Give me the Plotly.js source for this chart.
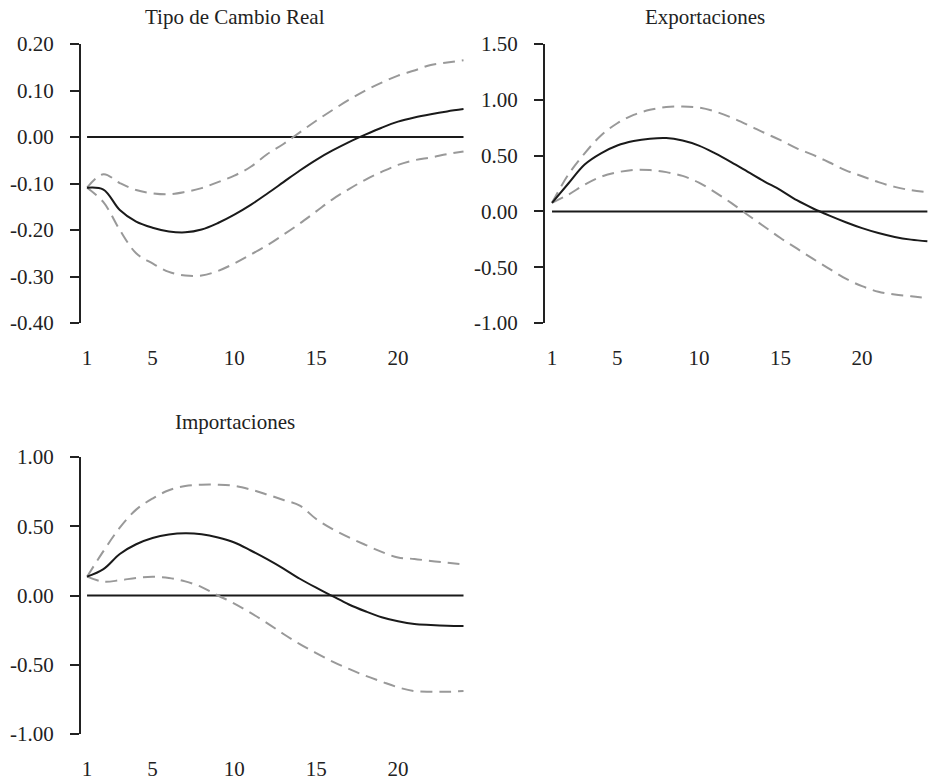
<!DOCTYPE html>
<html>
<head>
<meta charset="utf-8">
<script src="https://cdn.plot.ly/plotly-3.0.1.min.js"></script>
<style>html,body{margin:0;padding:0;background:#fff;}#chart{width:929px;height:783px;}</style>
</head>
<body>
<div id="chart"></div>
<script>
// ---- data ----
const periods = [1,2,3,4,5,6,7,8,9,10,11,12,13,14,15,16,17,18,19,20,21,22,23,24];
const zeros = periods.map(() => 0);

const tcrIRF   = [-0.109,-0.113,-0.157,-0.182,-0.195,-0.203,-0.205,-0.199,-0.185,-0.167,-0.146,-0.122,-0.097,-0.072,-0.049,-0.029,-0.011,0.005,0.02,0.033,0.042,0.049,0.055,0.06];
const tcrUpper = [-0.109,-0.08,-0.099,-0.114,-0.121,-0.123,-0.118,-0.11,-0.097,-0.083,-0.064,-0.037,-0.015,0.01,0.035,0.058,0.08,0.10,0.117,0.132,0.143,0.155,0.16,0.165];
const tcrLower = [-0.109,-0.14,-0.20,-0.25,-0.272,-0.29,-0.298,-0.298,-0.288,-0.272,-0.253,-0.233,-0.21,-0.186,-0.16,-0.134,-0.112,-0.092,-0.075,-0.06,-0.05,-0.044,-0.037,-0.031];

const expIRF   = [0.077,0.25,0.42,0.52,0.59,0.63,0.652,0.658,0.635,0.59,0.52,0.44,0.355,0.27,0.19,0.10,0.026,-0.038,-0.097,-0.15,-0.194,-0.229,-0.253,-0.268];
const expUpper = [0.077,0.33,0.52,0.68,0.79,0.865,0.91,0.935,0.94,0.93,0.895,0.84,0.775,0.705,0.638,0.565,0.506,0.438,0.368,0.315,0.262,0.22,0.19,0.174];
const expLower = [0.077,0.15,0.24,0.31,0.35,0.372,0.37,0.352,0.318,0.258,0.17,0.074,-0.032,-0.135,-0.238,-0.332,-0.426,-0.515,-0.603,-0.67,-0.72,-0.745,-0.76,-0.778];

const impIRF   = [0.136,0.19,0.30,0.37,0.415,0.44,0.449,0.442,0.419,0.383,0.325,0.262,0.194,0.121,0.056,-0.005,-0.065,-0.114,-0.157,-0.186,-0.206,-0.213,-0.218,-0.22];
const impUpper = [0.136,0.32,0.49,0.62,0.70,0.76,0.79,0.80,0.80,0.792,0.765,0.729,0.69,0.649,0.552,0.479,0.419,0.366,0.315,0.274,0.264,0.249,0.237,0.225];
const impLower = [0.136,0.10,0.11,0.127,0.135,0.127,0.102,0.061,0.0,-0.058,-0.126,-0.199,-0.278,-0.351,-0.416,-0.477,-0.53,-0.579,-0.622,-0.663,-0.69,-0.695,-0.695,-0.69];

const titles = ["Tipo de Cambio Real", "Exportaciones", "Importaciones"];
const xTickVals = [1,5,10,15,20];
const xTickText = ["1","5","10","15","20"];
const y1Vals = [0.2,0.1,0,-0.1,-0.2,-0.3,-0.4];
const y1Text = ["0.20","0.10","0.00","-0.10","-0.20","-0.30","-0.40"];
const y2Vals = [1.5,1,0.5,0,-0.5,-1];
const y2Text = ["1.50","1.00","0.50","0.00","-0.50","-1.00"];
const y3Vals = [1,0.5,0,-0.5,-1];
const y3Text = ["1.00","0.50","0.00","-0.50","-1.00"];

// ---- build ----
const W = 929, H = 783;
const FONT = "Liberation Serif, Times New Roman, serif";
const FS = 21;
const solid = {color:'#1a1a1a', width:2, shape:'spline', smoothing:1};
const dashed = {color:'#999999', width:2, dash:'12px,7px', shape:'spline', smoothing:1};
const zeroLine = {color:'#1a1a1a', width:2};

function panel(xa, ya, irf, up, lo) {
  return [
    {x:periods, y:zeros, xaxis:xa, yaxis:ya, mode:'lines', line:zeroLine, hoverinfo:'skip'},
    {x:periods, y:up, xaxis:xa, yaxis:ya, mode:'lines', line:dashed},
    {x:periods, y:lo, xaxis:xa, yaxis:ya, mode:'lines', line:dashed},
    {x:periods, y:irf, xaxis:xa, yaxis:ya, mode:'lines', line:solid}
  ];
}
const data = [].concat(
  panel('x','y', tcrIRF, tcrUpper, tcrLower),
  panel('x2','y2', expIRF, expUpper, expLower),
  panel('x3','y3', impIRF, impUpper, impLower)
);

function xAxis(l, r, range, anchor) {
  return {domain:[l/W, r/W], range:range, anchor:anchor, showgrid:false, zeroline:false,
    showline:false, ticks:'', tickvals:xTickVals, ticktext:xTickText,
    ticklabelstandoff:20, tickfont:{family:FONT, size:FS, color:'#222'}};
}
function yAxis(top, bottom, range, vals, text, anchor) {
  return {domain:[1-bottom/H, 1-top/H], range:range, anchor:anchor, showgrid:false, zeroline:false,
    showline:true, linecolor:'#222', linewidth:2, ticks:'outside', ticklen:9, tickwidth:2, tickcolor:'#222',
    tickvals:vals, ticktext:text, ticklabelstandoff:12, tickfont:{family:FONT, size:FS, color:'#222'}};
}

const layout = {
  width:W, height:H, margin:{l:0,r:0,t:0,b:0}, paper_bgcolor:'#fff', plot_bgcolor:'#fff',
  showlegend:false, font:{family:FONT},
  xaxis: xAxis(81, 464, [0.63, 24.03], 'y'),
  yaxis: yAxis(44, 323, [-0.4, 0.2], y1Vals, y1Text, 'x'),
  xaxis2: xAxis(545, 929, [0.57, 24.1], 'y2'),
  yaxis2: yAxis(44, 323, [-1, 1.5], y2Vals, y2Text, 'x2'),
  xaxis3: xAxis(81, 464, [0.63, 24.03], 'y3'),
  yaxis3: yAxis(457, 734, [-1, 1], y3Vals, y3Text, 'x3'),
  annotations: [
    {text:titles[0], x:235/W, y:1-17/H, xref:'paper', yref:'paper', showarrow:false, xanchor:'center', yanchor:'middle', font:{family:FONT, size:FS, color:'#222'}},
    {text:titles[1], x:705/W, y:1-17/H, xref:'paper', yref:'paper', showarrow:false, xanchor:'center', yanchor:'middle', font:{family:FONT, size:FS, color:'#222'}},
    {text:titles[2], x:235/W, y:1-422/H, xref:'paper', yref:'paper', showarrow:false, xanchor:'center', yanchor:'middle', font:{family:FONT, size:FS, color:'#222'}}
  ]
};

Plotly.newPlot('chart', data, layout, {staticPlot:true, displayModeBar:false});
</script>
</body>
</html>
